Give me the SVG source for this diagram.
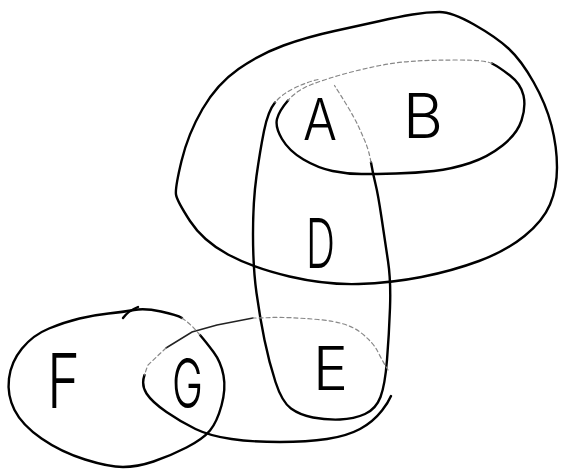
<svg xmlns="http://www.w3.org/2000/svg" width="564" height="473" viewBox="0 0 564 473">
<style>
.s{fill:none;stroke:#000;stroke-width:2.4;stroke-linecap:round;stroke-linejoin:round}
.m{fill:none;stroke:#222;stroke-width:1.5;stroke-linecap:round}
.f{fill:none;stroke:#888;stroke-width:1.2;stroke-dasharray:4 3;stroke-linecap:round}
.t{font-family:Inter,"Open Sans","Liberation Sans",sans-serif;font-weight:300;fill:#000}
</style>
<rect width="564" height="473" fill="#fff"/>
<g id="sets">
<g id="set-ABD">
<path class="s" d="M 474,24.5 Q 496,37 508.5,48.5 Q 521,60 533.5,82 Q 546,104 551.5,125.5 Q 557,147 557,167.5 Q 557,188 550,204.5 Q 543,221 524.5,236 Q 506,251 479,261 Q 452,271 421.5,277 Q 391,283 358.5,284 Q 326,285 289.5,276.5 Q 253,268 228,254.5 Q 203,241 190,221 Q 177,201 176,194.5 Q 175,188 181.5,161 Q 188,134 202.5,109 Q 217,84 238.5,69 Q 260,54 283.5,45.5 Q 307,37 334.5,31 Q 362,25 380,21 Q 398,17 412.5,14.5 Q 427,12 439.5,12 Q 452,12 474,24.5 Z"/>
</g>
<g id="set-AB">
<path class="s" d="M 288,100.5 Q 279,111 277,119 Q 275,127 282,139 Q 289,151 303.5,159.5 Q 318,168 332.5,171 Q 347,174 361.5,174 Q 376,174 396,173.5 Q 416,173 434,171 Q 452,169 470,163 Q 488,157 502.5,145.5 Q 517,134 521.5,120.5 Q 526,107 523.5,95.5 Q 521,84 510,75.5 Q 499,67 492,63.5"/>
<path class="f" d="M 492,63.5 Q 485,60 459.5,60 Q 434,60 416,61 Q 398,62 380,65.5 Q 362,69 344,74 Q 326,79 311.5,84.5 Q 297,90 288,100.5"/>
</g>
<g id="set-ADE">
<path class="s" d="M 275,102.5 Q 268,111 264,131 Q 260,151 256.5,176 Q 253,201 253,234.5 Q 253,268 256.5,293 Q 260,318 264.5,340 Q 269,362 275.5,382 Q 282,402 291,408.5 Q 300,415 313,417.5 Q 326,420 340,419.5 Q 354,419 365,414 Q 376,409 380.5,397 Q 385,385 387,360 Q 389,335 390,308 Q 391,281 388,261 Q 385,241 381.5,217.5 Q 378,194 375.5,184 Q 373,174 371,162.5"/>
<path class="f" d="M 371,162.5 Q 369,151 365.5,142.5 Q 362,134 358,125.5 Q 354,117 347,105.5 Q 340,94 334.5,85.5 M 318,79.5 Q 307,82 294.5,88 Q 282,94 275,102.5"/>
</g>
<g id="set-GE">
<path class="s" d="M 144.5,375 Q 141,385 146.5,393.5 Q 152,402 166.5,412 Q 181,422 195.5,429 Q 210,436 231.5,439 Q 253,442 280,442 Q 307,442 327,439 Q 347,436 360,429 Q 373,422 382,410.5 Q 388,403 391,396"/>
<path class="m" d="M 253,318 Q 235,321.5 217,325 Q 204.5,328.5 192,332 Q 179,340 166,348"/>
<path class="f" d="M 388,370 Q 383,362 378,352 Q 373,342 360,332 Q 347,322 318,319.5 Q 289,317 271,317.5 Q 262,318 253,318 M 166,348 Q 157,356.5 148,365 Q 146,370 144.5,375"/>
</g>
<g id="set-FG">
<path class="s" d="M 182,318 Q 177,315 161,311.5 Q 145,308 134,310 Q 123,312 108.5,313.5 Q 94,315 79.5,318.5 Q 65,322 49,328.5 Q 33,335 22,348.5 Q 11,362 9,378.5 Q 7,395 14.5,410 Q 22,425 41.5,438.5 Q 61,452 85,459.5 Q 109,467 123,467 Q 137,467 153.5,461.5 Q 170,456 186.5,447.5 Q 203,439 210,430.5 Q 217,422 221.5,405.5 Q 226,389 223.5,375.5 Q 221,362 213.5,352 Q 206,342 200,335"/>
<path class="f" d="M 182,318 Q 192,325 200,335"/>
<path class="s" d="M 123,318 Q 128,311 138,307"/>
</g>
</g>
<g id="node-A"><text class="t" x="303" y="140" font-size="58" textLength="34" lengthAdjust="spacingAndGlyphs">A</text></g>
<g id="node-B"><text class="t" x="403" y="138" font-size="62" textLength="40" lengthAdjust="spacingAndGlyphs">B</text></g>
<g id="node-D"><text class="t" x="306" y="268" font-size="68" textLength="29" lengthAdjust="spacingAndGlyphs">D</text></g>
<g id="node-E"><text class="t" x="313" y="390" font-size="60" textLength="35" lengthAdjust="spacingAndGlyphs">E</text></g>
<g id="node-G"><text class="t" x="172" y="408" font-size="68" textLength="31" lengthAdjust="spacingAndGlyphs">G</text></g>
<g id="node-F"><text class="t" x="47" y="408" font-size="76" textLength="33" lengthAdjust="spacingAndGlyphs">F</text></g>
</svg>
